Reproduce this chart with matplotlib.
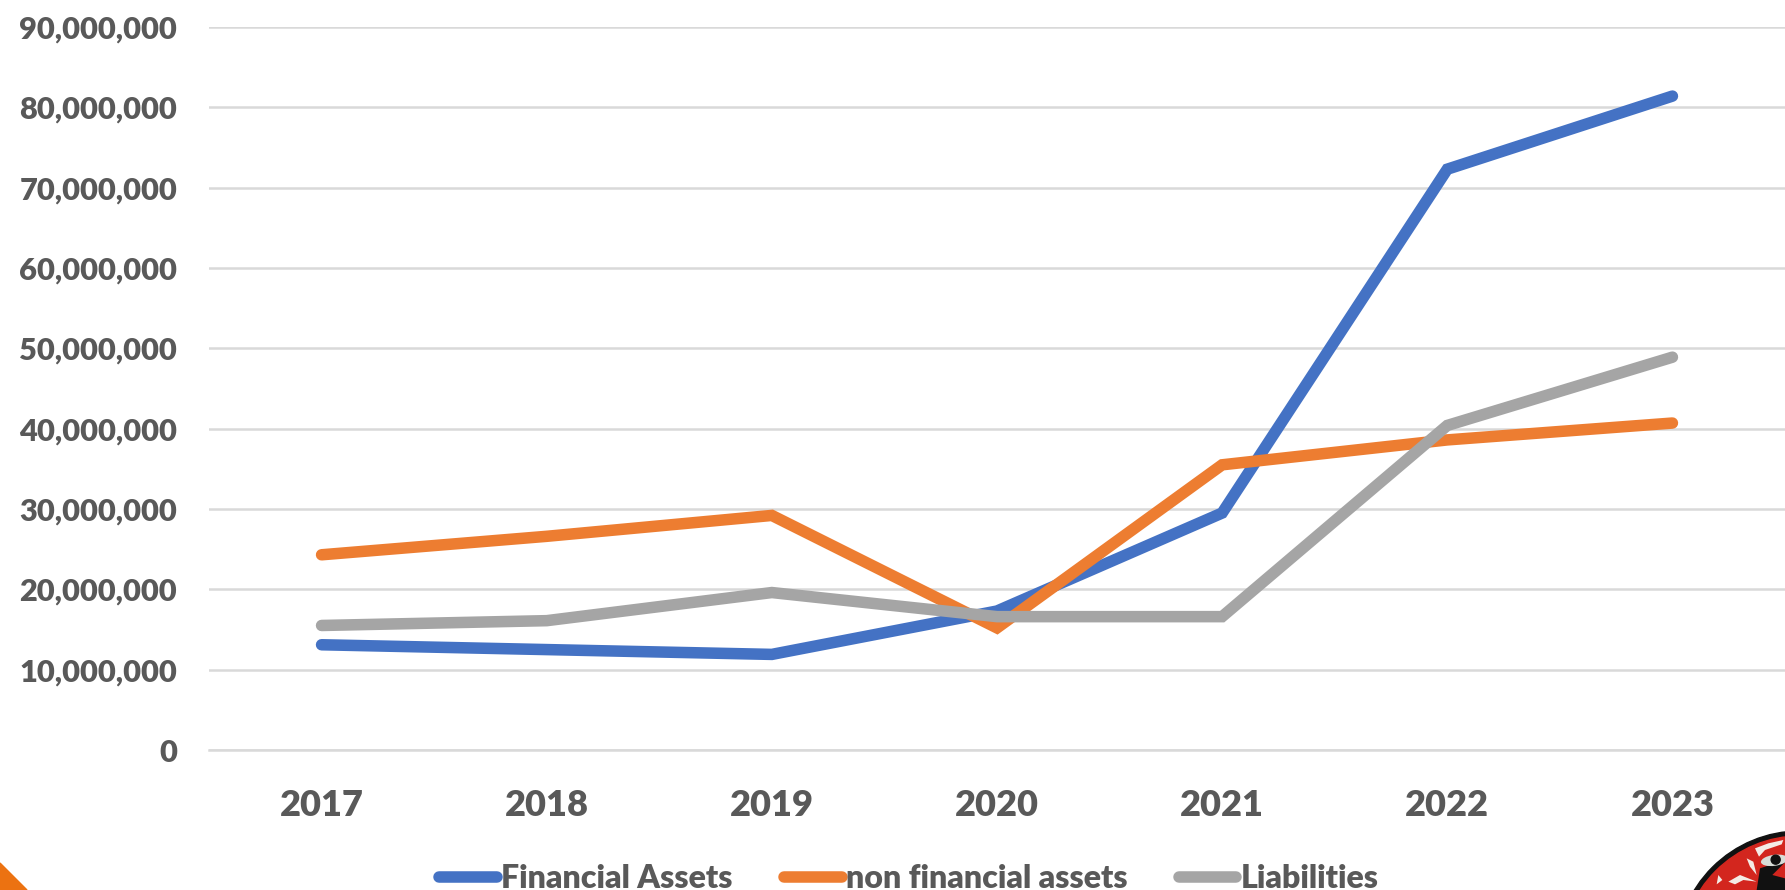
import matplotlib
matplotlib.use('Agg')
import matplotlib.pyplot as plt
from matplotlib.lines import Line2D
from matplotlib.patches import Circle, Ellipse, Polygon
from matplotlib.ticker import FuncFormatter

years = ['2017', '2018', '2019', '2020', '2021', '2022', '2023']
financial_assets = [13.1e6, 12.5e6, 11.9e6, 17.3e6, 29.5e6, 72.3e6, 81.4e6]
non_financial_assets = [24.3e6, 26.6e6, 29.2e6, 15.2e6, 35.5e6, 38.6e6, 40.7e6]
liabilities = [15.5e6, 16.1e6, 19.6e6, 16.6e6, 16.6e6, 40.4e6, 48.9e6]
y_ticks = [0, 10e6, 20e6, 30e6, 40e6, 50e6, 60e6, 70e6, 80e6, 90e6]
series_names = ['Financial Assets', 'non financial assets', 'Liabilities']
series_colors = ['#4472C4', '#ED7D31', '#A5A5A5']

W, H = 1785, 890
TEXT = '#595959'
LW = 8.3
plt.rcParams['font.family'] = ['Lato', 'DejaVu Sans']
plt.rcParams['font.weight'] = 'heavy'

fig = plt.figure(figsize=(W / 100, H / 100), dpi=100)
ax = fig.add_axes([209 / W, 1 - 750 / H, (W - 209) / W, (750 - 27) / H])

x = range(len(years))
for vals, c, z in zip([financial_assets, non_financial_assets, liabilities], series_colors, [3, 4, 5]):
    ax.plot(x, vals, color=c, lw=LW, solid_capstyle='round', solid_joinstyle='miter', zorder=z)

ax.set_xlim(-0.5, 6.5)
ax.set_ylim(0, 90e6)
ax.set_xticks(list(x), years)
ax.set_yticks(y_ticks)
ax.yaxis.set_major_formatter(FuncFormatter(lambda v, _: f'{int(v):,}'))
ax.grid(axis='y', color='#D9D9D9', lw=1.8)
ax.set_axisbelow(True)
ax.tick_params(length=0)
ax.tick_params(axis='x', labelsize=26, labelcolor=TEXT, pad=28)
ax.tick_params(axis='y', labelsize=22.2, labelcolor=TEXT, pad=23)
for s in ['top', 'right', 'left']:
    ax.spines[s].set_visible(False)
ax.spines['bottom'].set_color('#D9D9D9')
ax.spines['bottom'].set_linewidth(1.8)

# legend
handles = [Line2D([0], [0], color=c, lw=LW, solid_capstyle='round') for c in series_colors]
fig.legend(handles, series_names,
           loc='lower left', bbox_to_anchor=(439 / W, -3 / H), ncol=3, frameon=False,
           fontsize=23.1, labelcolor=TEXT, handlelength=1.8, handletextpad=0.13, columnspacing=1.6,
           borderpad=0, borderaxespad=0)

# corner triangle and logo, drawn in pixel coordinates
deco = fig.add_axes([0, 0, 1, 1], facecolor='none')
deco.set_xlim(0, W)
deco.set_ylim(H, 0)
deco.axis('off')
deco.add_patch(Polygon([[0, 863], [27, 890], [0, 890]], color='#EC7211'))
deco.add_patch(Circle((1800, 955), 124, color='#111111'))
deco.add_patch(Circle((1800, 955), 119, color='#D3261E'))

def logo_shape(points, color='#F4ECE6'):
    deco.add_patch(Polygon([[1685 + a / 3, 825 + b / 3] for a, b in points], color=color, lw=0))

logo_shape([(210, 70), (250, 55), (295, 45), (290, 58), (240, 75), (222, 95)])
logo_shape([(185, 100), (205, 110), (215, 150), (195, 125)])
logo_shape([(130, 170), (165, 150), (215, 170), (175, 165), (150, 178)])
logo_shape([(100, 150), (112, 165), (95, 178)])
logo_shape([(225, 130), (300, 105), (300, 112), (262, 150), (300, 160), (300, 195), (215, 195)], '#111111')
deco.add_patch(Ellipse((1685 + 268 / 3, 825 + 106 / 3), 27, 11, angle=-8, color='#D8DDD8', lw=0))
deco.add_patch(Circle((1685 + 272 / 3, 825 + 104 / 3), 4.5, color='#111111'))

fig.savefig('out.png', dpi=100)
